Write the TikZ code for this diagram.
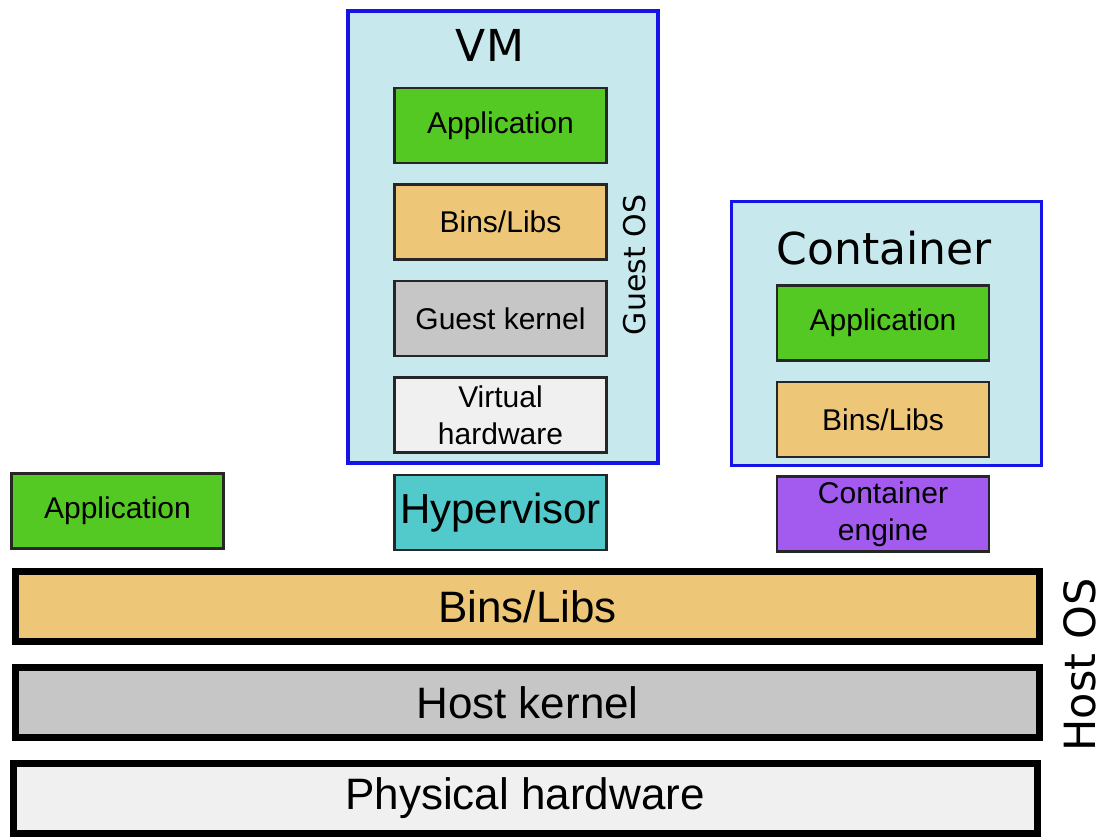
\documentclass[tikz,border=0pt]{standalone}
\usepackage{fontspec}
\setmainfont{Liberation Sans}
\newfontfamily\titlefont{DejaVu Sans}
\usepackage{xcolor}
\usetikzlibrary{positioning}
\definecolor{appgreen}{RGB}{85,201,35}
\definecolor{binsorange}{RGB}{237,199,119}
\definecolor{kernelgray}{RGB}{198,198,198}
\definecolor{hwgray}{RGB}{240,240,240}
\definecolor{vmfill}{RGB}{199,233,238}
\definecolor{vmblue}{RGB}{20,20,230}
\definecolor{hyperteal}{RGB}{82,202,203}
\definecolor{enginepurple}{RGB}{163,90,239}
\tikzset{
  layer/.style={draw=black!85, line width=2.5pt, align=center, minimum width=212pt, minimum height=75pt, inner sep=0pt, font=\fontsize{30}{37}\selectfont},
  hostlayer/.style={draw=black, line width=7pt, align=center, minimum width=1024pt, minimum height=70pt, inner sep=0pt, font=\fontsize{44}{50}\selectfont},
  boxframe/.style={draw=vmblue, fill=vmfill, inner sep=0pt},
  boxtitle/.style={font=\titlefont\fontsize{44}{50}\selectfont, inner sep=0pt},
  sidelabel/.style={rotate=90, inner sep=0pt}
}

\begin{document}
\begin{tikzpicture}[x=1pt, y=-1pt, node distance=19pt]
    \useasboundingbox (0,0) rectangle (1105,839);
    % virtual machine
    \node[boxframe, line width=4pt, minimum width=310pt, minimum height=452pt] (vm) at (503,237) {};
    \node[boxtitle] (vmtitle) at (490,45) {VM};
    \node[layer, fill=appgreen] (vmapp) at (500.5,125.5) {Application};
    \node[layer, fill=binsorange, below=of vmapp] (vmbins) {Bins/Libs};
    \node[layer, fill=kernelgray, below=of vmbins] (vmkernel) {Guest kernel};
    \node[layer, fill=hwgray, below=of vmkernel] (vmhw) {Virtual\\hardware};
    \node[sidelabel, font=\titlefont\fontsize{30}{36}\selectfont] (guestos) at (635,265) {Guest OS};
    \node[layer, fill=hyperteal, font=\fontsize{42}{48}\selectfont, below=20pt of vmhw] (hyper) {Hypervisor};

    % container
    \node[boxframe, line width=3pt, minimum width=310pt, minimum height=264pt] (ctr) at (886.5,333.5) {};
    \node[boxtitle] (ctrtitle) at (884,248) {Container};
    \node[layer, fill=appgreen] (ctrapp) at (883,323) {Application};
    \node[layer, fill=binsorange, below=of ctrapp] (ctrbins) {Bins/Libs};
    \node[layer, fill=enginepurple, below=17pt of ctrbins] (engine) {Container\\engine};

    % host
    \node[layer, fill=appgreen] (hostapp) at (117.5,511) {Application};
    \node[hostlayer, fill=binsorange] (hostbins) at (527.5,606.5) {Bins/Libs};
    \node[hostlayer, fill=kernelgray, below=19pt of hostbins] (hostkernel) {Host kernel};
    \node[hostlayer, fill=hwgray, below=19pt of hostkernel, xshift=-2.5pt, minimum height=70pt] (phys) {Physical hardware};
    \node[sidelabel, font=\titlefont\fontsize{43}{50}\selectfont] (hostos) at (1080,665) {Host OS};
\end{tikzpicture}
\end{document}
